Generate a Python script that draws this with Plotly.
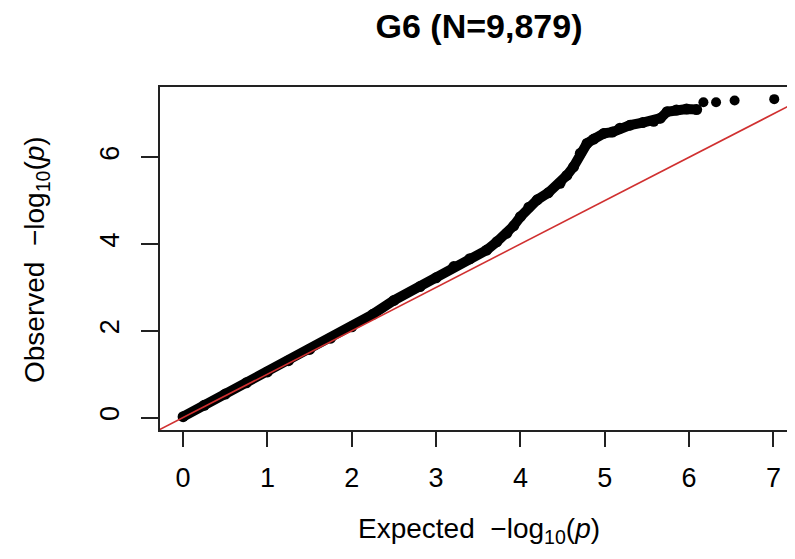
import plotly.graph_objects as go

expected = [0.00, 0.25, 0.50, 0.75, 1.00, 1.25, 1.50, 1.75, 2.00, 2.25, 2.50, 2.81,
            3.00, 3.21, 3.40, 3.60, 3.72, 3.84, 3.92, 4.00, 4.10, 4.20, 4.33, 4.47,
            4.55, 4.63, 4.71, 4.79, 4.87, 4.99, 5.09, 5.18, 5.30, 5.45, 5.58, 5.66,
            5.74, 5.85, 5.97, 6.09]
observed = [0.02, 0.28, 0.54, 0.80, 1.05, 1.31, 1.57, 1.83, 2.09, 2.38, 2.70, 3.02,
            3.22, 3.48, 3.66, 3.86, 4.05, 4.25, 4.42, 4.63, 4.85, 5.02, 5.18, 5.40,
            5.58, 5.78, 6.09, 6.32, 6.42, 6.55, 6.58, 6.67, 6.74, 6.80, 6.83, 6.90,
            7.05, 7.09, 7.11, 7.10]
tail_expected = [6.17, 6.32, 6.54, 7.01]
tail_observed = [7.27, 7.27, 7.31, 7.34]
diag = [-0.5, 7.6]

x_ticks = [0, 1, 2, 3, 4, 5, 6, 7]
y_ticks = [0, 2, 4, 6]
title_text = "G6 (N=9,879)"
x_title = "Expected  \u2212log<sub>10</sub>(<i>p</i>)"
y_title = "Observed  \u2212log<sub>10</sub>(<i>p</i>)"

FONT = "Liberation Sans, Arial, Helvetica, sans-serif"

# page body has an 8px default margin; figure sized/placed to compensate
W, H = 787, 551
L, T, PW, PH = 152, 79, 635, 343

fig = go.Figure()
fig.add_trace(go.Scatter(x=expected, y=observed, mode="lines+markers",
                         line=dict(color="black", width=10),
                         marker=dict(color="black", size=11),
                         showlegend=False, hoverinfo="skip"))
fig.add_trace(go.Scatter(x=tail_expected, y=tail_observed, mode="markers",
                         marker=dict(color="black", size=10),
                         showlegend=False, hoverinfo="skip"))
fig.add_trace(go.Scatter(x=diag, y=diag, mode="lines",
                         line=dict(color="#d03030", width=1.6),
                         showlegend=False, hoverinfo="skip"))

fig.update_layout(
    width=W, height=H,
    margin=dict(l=L, r=W - L - PW, t=T, b=H - T - PH, autoexpand=False),
    paper_bgcolor="white", plot_bgcolor="white",
    font=dict(family=FONT, color="black"),
    title=dict(text="<b>" + title_text + "</b>", x=471 / W, xref="container",
               xanchor="center", y=1 - 18 / H, yref="container", yanchor="middle",
               font=dict(size=34, family=FONT, color="black")),
)
fig.update_xaxes(range=[-0.274, 7.256], tickvals=x_ticks, ticktext=[str(t) for t in x_ticks],
                 showgrid=False, zeroline=False, showline=True, mirror=True,
                 linecolor="#222", linewidth=2, ticks="outside", ticklen=15,
                 tickwidth=1.5, tickcolor="#222", tickfont=dict(size=27),
                 ticklabelstandoff=8, automargin=False)
fig.update_yaxes(range=[-0.288, 7.62], tickvals=y_ticks, ticktext=[str(t) for t in y_ticks],
                 showgrid=False, zeroline=False, showline=True, mirror=False,
                 linecolor="#222", linewidth=2, ticks="outside", ticklen=17,
                 tickwidth=1.5, tickcolor="#222", tickfont=dict(size=27),
                 tickangle=-90, ticklabelstandoff=11, automargin=False)

fig.add_annotation(text=x_title, xref="paper", yref="paper", x=(479 - 160) / PW,
                   y=-(530 - 430) / PH, xanchor="center", yanchor="middle",
                   showarrow=False, font=dict(size=28, family=FONT, color="black"))
fig.add_annotation(text=y_title, xref="paper", yref="paper", x=-(160 - 37) / PW,
                   y=(430 - 260) / PH, xanchor="center", yanchor="middle", textangle=-90,
                   showarrow=False, font=dict(size=28, family=FONT, color="black"))

fig.write_html("out.html")
